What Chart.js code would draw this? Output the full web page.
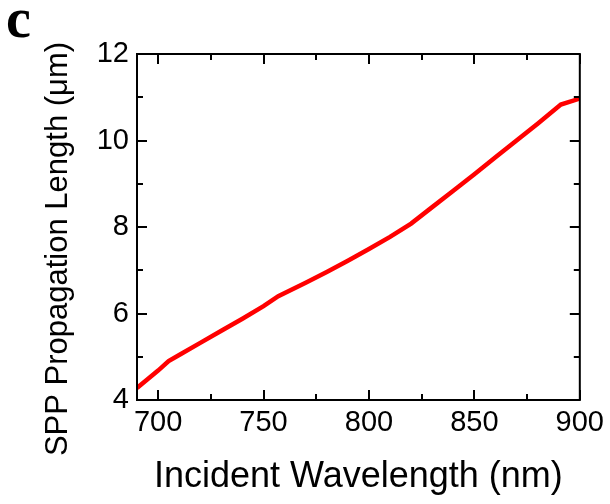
<!DOCTYPE html>
<html>
<head>
<meta charset="utf-8">
<script src="https://cdn.jsdelivr.net/npm/chart.js@4"></script>
<style>
  body { margin: 0; background: #fff; }
  #wrap { width: 610px; height: 504px; }
</style>
</head>
<body>
<div id="wrap"><canvas id="spp_Chart" width="610" height="504"></canvas></div>
<script>
// Werte
let wavelengths = [690, 695, 700, 705, 710, 720, 730, 740, 750, 757, 770, 780, 790, 800, 810, 820, 830, 840, 850, 860, 870, 880, 891, 900];
let lengths = [4.28, 4.48, 4.68, 4.90, 5.04, 5.32, 5.60, 5.88, 6.17, 6.40, 6.71, 6.96, 7.22, 7.49, 7.77, 8.08, 8.46, 8.84, 9.22, 9.61, 10.00, 10.39, 10.83, 10.97];

let xTicks = [700, 750, 800, 850, 900];
let xMinor = [725, 775, 825, 875];
let yTicks = [4, 6, 8, 10, 12];
let yMinor = [5, 7, 9, 11];

let xTitle = 'Incident Wavelength (nm)';
let yTitle = 'SPP Propagation Length (\u03bcm)';
let panelLabel = 'c';

// Rahmen, Ticks nach innen, Achsentitel
const framePlugin = {
    id: 'framePlugin',
    afterDraw(chart) {
        const ctx = chart.ctx;
        const a = chart.chartArea;
        const xs = chart.scales.x;
        const ys = chart.scales.y;
        ctx.save();
        ctx.strokeStyle = '#000';
        ctx.lineWidth = 2;
        ctx.strokeRect(a.left, a.top, a.right - a.left, a.bottom - a.top);

        ctx.beginPath();
        function xTick(v, len) {
            let px = Math.round(xs.getPixelForValue(v));
            ctx.moveTo(px, a.bottom); ctx.lineTo(px, a.bottom - len);
            ctx.moveTo(px, a.top); ctx.lineTo(px, a.top + len);
        }
        function yTick(v, len) {
            let py = Math.round(ys.getPixelForValue(v));
            ctx.moveTo(a.left, py); ctx.lineTo(a.left + len, py);
            ctx.moveTo(a.right, py); ctx.lineTo(a.right - len, py);
        }
        xTicks.forEach(v => xTick(v, 10));
        xMinor.forEach(v => xTick(v, 6));
        yTicks.forEach(v => yTick(v, 10));
        yMinor.forEach(v => yTick(v, 6));
        ctx.stroke();

        ctx.fillStyle = '#000';
        ctx.font = '36px "Liberation Sans", Arial, sans-serif';
        ctx.textAlign = 'center';
        ctx.textBaseline = 'alphabetic';
        ctx.fillText(xTitle, (a.left + a.right) / 2, 487);

        ctx.save();
        ctx.translate(67, 249);
        ctx.rotate(-Math.PI / 2);
        ctx.font = '31px "Liberation Sans", Arial, sans-serif';
        ctx.fillText(yTitle, 0, 0);
        ctx.restore();

        ctx.font = 'bold 56px "Liberation Serif", "Times New Roman", serif';
        ctx.textAlign = 'left';
        ctx.fillText(panelLabel, 6, 37);
        ctx.restore();
    }
};

const spp_Chart = document.querySelector('#spp_Chart');

new Chart(spp_Chart, {
    type: 'line',
    data: {
        labels: wavelengths,
        datasets: [{
            label: 'SPP',
            data: wavelengths.map((w, i) => ({ x: w, y: lengths[i] })),
            borderColor: '#ff0000',
            borderWidth: 4.5,
            pointRadius: 0,
            tension: 0,
            fill: false
        }]
    },
    options: {
        responsive: false,
        animation: false,
        layout: { padding: { top: 54, right: 28, left: 0, bottom: 0 } },
        plugins: {
            legend: { display: false },
            tooltip: { enabled: false }
        },
        scales: {
            x: {
                type: 'linear',
                min: 690,
                max: 900,
                grid: { display: false, drawTicks: false },
                border: { display: false },
                afterBuildTicks: scale => { scale.ticks = xTicks.map(v => ({ value: v })); },
                afterFit: scale => { scale.height = 104; },
                ticks: {
                    padding: 6,
                    color: '#000',
                    maxRotation: 0,
                    font: { family: '"Liberation Sans", Arial, sans-serif', size: 29 }
                }
            },
            y: {
                min: 4,
                max: 12,
                grid: { display: false, drawTicks: false },
                border: { display: false },
                afterBuildTicks: scale => { scale.ticks = yTicks.map(v => ({ value: v })); },
                afterFit: scale => { scale.width = 137; },
                ticks: {
                    padding: 8,
                    color: '#000',
                    font: { family: '"Liberation Sans", Arial, sans-serif', size: 29 }
                }
            }
        }
    },
    plugins: [framePlugin]
});
</script>
</body>
</html>
